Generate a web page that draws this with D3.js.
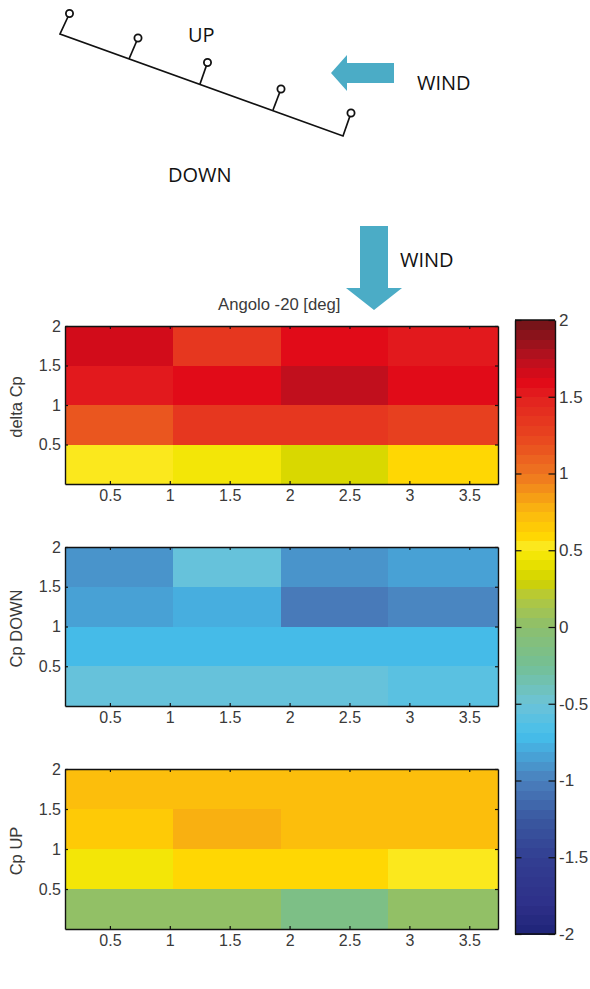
<!DOCTYPE html>
<html>
<head>
<meta charset="utf-8">
<script src="https://d3js.org/d3.v7.min.js"></script>
<style>
body { margin: 0; background: white; }
svg { display: block; }
.axis text { font-family: "Liberation Sans", Arial, sans-serif; fill: #3a3a3a; }
</style>
</head>
<body>
<div class="chart"></div>
<script>
// cell edges along each axis (cells are not quite on the ticks in x)
var xEdges = [0.125, 1.025, 1.93, 2.82, 3.74];
var yEdges = [2, 1.5, 1, 0.5, 0];
var xTicks = [0.5, 1, 1.5, 2, 2.5, 3, 3.5];
var yTicks = [0.5, 1, 1.5, 2];
var cbTicks = [2, 1.5, 1, 0.5, 0, -0.5, -1, -1.5, -2];

// rows go from top to bottom
var deltaCp = [
	[1.68, 1.33, 1.60, 1.52],
	[1.52, 1.60, 1.74, 1.60],
	[1.18, 1.35, 1.35, 1.30],
	[0.53, 0.45, 0.36, 0.58]
];
var cpDown = [
	[-0.93, -0.55, -0.93, -0.83],
	[-0.83, -0.78, -1.02, -0.95],
	[-0.70, -0.70, -0.74, -0.74],
	[-0.55, -0.55, -0.52, -0.60]
];
var cpUp = [
	[0.70, 0.70, 0.70, 0.70],
	[0.65, 0.78, 0.70, 0.70],
	[0.45, 0.57, 0.57, 0.52],
	[0.00, 0.00, -0.15, 0.05]
];

// colormap stops
var cmapValues = [-2, -1.8, -1.5, -1.25, -1, -0.85, -0.7, -0.5, -0.25, 0, 0.2, 0.3, 0.45, 0.53, 0.6, 0.75, 1, 1.25, 1.5, 1.6, 1.75, 2];
var cmapColors = ["#1f2478", "#2e3089", "#323f92", "#3a58a0", "#4a7fbc", "#48a0d4", "#45bfeb", "#6cc3d8", "#74bf95", "#8cbf6e",
	"#b4c83c", "#d0d200", "#f0e600", "#fbe81e", "#ffd500", "#fbb80f", "#ee7520", "#e8441f", "#e2201f", "#e10a17", "#b8101f", "#6e1418"];
var cmapLevels = 64;

// sketch of the plate and its pressure taps
var tapBase = [[60, 34], [129, 59], [200, 84], [273, 110], [343, 136]];
var tapTip = [[69.5, 13.5], [138, 38], [207.5, 62.5], [281, 89], [351, 113]];
var sketchLabels = [
	{text: "UP", x: 188, y: 42},
	{text: "WIND", x: 417, y: 90},
	{text: "DOWN", x: 168, y: 182},
	{text: "WIND", x: 400, y: 267}
];

var panels = [
	{name: "delta Cp", values: deltaCp, top: 326, bottom: 484},
	{name: "Cp DOWN", values: cpDown, top: 547, bottom: 706},
	{name: "Cp UP", values: cpUp, top: 769, bottom: 929}
];

var left = 65, right = 498;
var cb = {left: 515, right: 555, top: 320, bottom: 934};

var svg = d3.select(".chart")
	.append("svg")
	.attr("width", 590)
	.attr("height", 989);

var smooth = d3.scaleLinear().domain(cmapValues).range(cmapColors).interpolate(d3.interpolateRgb);
var levels = d3.range(cmapLevels).map(function(i) {
	return smooth(-2 + (i + 0.5) * 4 / cmapLevels);
});
var color = d3.scaleQuantize().domain([-2, 2]).range(levels);

var x = d3.scaleLinear().domain([xEdges[0], xEdges[4]]).range([left, right]);

// --- sketch at the top ---
var sketch = svg.append("g");

sketch.append("path")
	.attr("d", d3.line()([tapTip[0], tapBase[0], tapBase[4], tapTip[4]]))
	.attr("fill", "none")
	.attr("stroke", "#111")
	.attr("stroke-width", 1.7);

sketch.selectAll("line.tap")
	.data(tapBase.slice(1, 4))
	.enter()
	.append("line")
	.attr("class", "tap")
	.attr("x1", function(d) { return d[0]; })
	.attr("y1", function(d) { return d[1]; })
	.attr("x2", function(d, i) { return tapTip[i + 1][0]; })
	.attr("y2", function(d, i) { return tapTip[i + 1][1]; })
	.attr("stroke", "#111")
	.attr("stroke-width", 1.7);

sketch.selectAll("circle")
	.data(tapTip)
	.enter()
	.append("circle")
	.attr("cx", function(d) { return d[0]; })
	.attr("cy", function(d) { return d[1]; })
	.attr("r", 3.6)
	.attr("fill", "white")
	.attr("stroke", "#111")
	.attr("stroke-width", 1.8);

sketch.selectAll("text")
	.data(sketchLabels)
	.enter()
	.append("text")
	.attr("x", function(d) { return d.x; })
	.attr("y", function(d) { return d.y; })
	.style("font-family", "'Open Sans', sans-serif")
	.style("font-size", "20px")
	.style("fill", "#111")
	.text(function(d) { return d.text; });

// wind arrows
sketch.append("path")
	.attr("d", "M331,73 L347,55 L347,63 L394,63 L394,83 L347,83 L347,91 Z")
	.attr("fill", "#4bacc6");
sketch.append("path")
	.attr("d", "M360,226 L388,226 L388,288 L402,288 L374,310 L346,288 L360,288 Z")
	.attr("fill", "#4bacc6");

svg.append("text")
	.attr("x", 218)
	.attr("y", 310)
	.style("font-family", "'Liberation Sans', Arial, sans-serif")
	.style("font-size", "16.7px")
	.style("fill", "#3a3a3a")
	.text("Angolo -20 [deg]");

// --- heatmaps ---
panels.forEach(function(p) {
	var y = d3.scaleLinear().domain([0, 2]).range([p.bottom, p.top]);
	var g = svg.append("g");

	p.values.forEach(function(row, r) {
		g.selectAll("rect.r" + r)
			.data(row)
			.enter()
			.append("rect")
			.attr("class", "r" + r)
			.attr("x", function(d, c) { return x(xEdges[c]); })
			.attr("y", y(yEdges[r]))
			.attr("width", function(d, c) { return x(xEdges[c + 1]) - x(xEdges[c]); })
			.attr("height", y(yEdges[r + 1]) - y(yEdges[r]))
			.attr("shape-rendering", "crispEdges")
			.attr("fill", function(d) { return color(d); });
	});

	var bottomAxis = g.append("g")
		.attr("class", "axis")
		.attr("transform", "translate(0," + p.bottom + ")")
		.call(d3.axisBottom(x).tickValues(xTicks).tickFormat(d3.format("")).tickSizeInner(-3).tickSizeOuter(0).tickPadding(6));
	var leftAxis = g.append("g")
		.attr("class", "axis")
		.attr("transform", "translate(" + left + ",0)")
		.call(d3.axisLeft(y).tickValues(yTicks).tickFormat(d3.format("")).tickSizeInner(-3).tickSizeOuter(0).tickPadding(4));
	var topAxis = g.append("g")
		.attr("class", "axis")
		.attr("transform", "translate(0," + p.top + ")")
		.call(d3.axisTop(x).tickValues(xTicks).tickFormat("").tickSizeInner(-3).tickSizeOuter(0));
	var rightAxis = g.append("g")
		.attr("class", "axis")
		.attr("transform", "translate(" + right + ",0)")
		.call(d3.axisRight(y).tickValues(yTicks).tickFormat("").tickSizeInner(-3).tickSizeOuter(0));

	[bottomAxis, leftAxis, topAxis, rightAxis].forEach(function(a) {
		a.selectAll("text").style("font-size", "16px");
		a.selectAll(".domain").attr("stroke", "#111").attr("stroke-width", 1.4);
		a.selectAll(".tick line").attr("stroke", "#111").attr("stroke-width", 1.2);
	});

	g.append("text")
		.attr("transform", "translate(22," + ((p.top + p.bottom) / 2 + 2) + ") rotate(-90)")
		.attr("text-anchor", "middle")
		.style("font-family", "'Liberation Sans', Arial, sans-serif")
		.style("font-size", "16.5px")
		.style("fill", "#3a3a3a")
		.text(p.name);
});

// --- colorbar ---
var cbY = d3.scaleLinear().domain([-2, 2]).range([cb.bottom, cb.top]);
var bar = svg.append("g");

bar.selectAll("rect")
	.data(levels)
	.enter()
	.append("rect")
	.attr("x", cb.left)
	.attr("y", function(d, i) { return cbY(-2 + (i + 1) * 4 / cmapLevels); })
	.attr("width", cb.right - cb.left)
	.attr("height", (cb.bottom - cb.top) / cmapLevels + 0.5)
	.attr("shape-rendering", "crispEdges")
	.attr("fill", function(d) { return d; });

var cbRight = bar.append("g")
	.attr("class", "axis")
	.attr("transform", "translate(" + cb.right + ",0)")
	.call(d3.axisRight(cbY).tickValues(cbTicks).tickFormat(d3.format("")).tickSizeInner(-6.5).tickSizeOuter(0).tickPadding(4));
var cbLeft = bar.append("g")
	.attr("class", "axis")
	.attr("transform", "translate(" + cb.left + ",0)")
	.call(d3.axisLeft(cbY).tickValues(cbTicks).tickFormat("").tickSizeInner(-6.5).tickSizeOuter(0));

[cbRight, cbLeft].forEach(function(a) {
	a.selectAll("text").style("font-size", "17px");
	a.selectAll(".domain").attr("stroke", "#111").attr("stroke-width", 1.4);
	a.selectAll(".tick line").attr("stroke", "#111").attr("stroke-width", 1.2);
});
// the minus sign in the reference is a plain hyphen
cbRight.selectAll("text").text(function(d) { return String(d); });

// closing lines along the top and bottom of the bar
bar.selectAll("line.end")
	.data([-2, 2])
	.enter()
	.append("line")
	.attr("class", "end")
	.attr("x1", cb.left)
	.attr("x2", cb.right)
	.attr("y1", function(d) { return cbY(d); })
	.attr("y2", function(d) { return cbY(d); })
	.attr("stroke", "#111")
	.attr("stroke-width", 1.4);
</script>
</body>
</html>
